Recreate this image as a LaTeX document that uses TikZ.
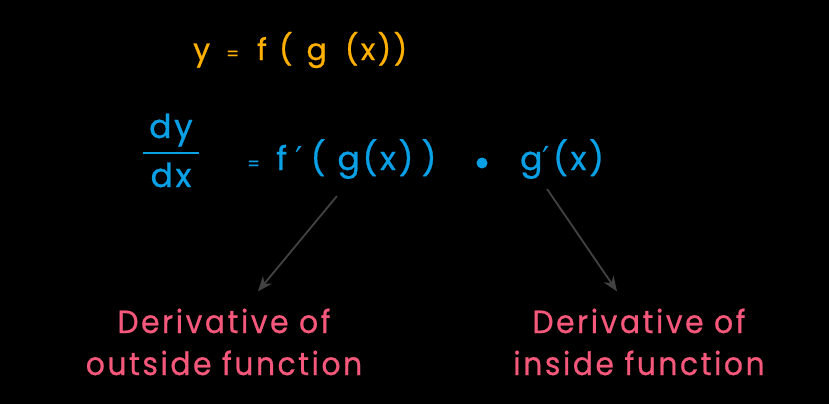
\documentclass[tikz,border=0pt]{standalone}
\usepackage{fontspec}
\setmainfont{Poppins}[LetterSpace=8,FakeBold=0.8]
\newfontfamily\labfont{Poppins}[LetterSpace=8,FakeStretch=0.93,FakeBold=0.6]
\newfontfamily\primefont{DejaVu Sans}
\usetikzlibrary{arrows.meta}
\definecolor{orng}{HTML}{FFB000}
\definecolor{skyb}{HTML}{0AA0E6}
\definecolor{pnk}{HTML}{F5587A}
\definecolor{arrgray}{HTML}{424242}
\newcommand{\prm}{{\primefont\char"2032}}
\newcommand{\smeq}{{\fontsize{18}{18}\selectfont =}}

\begin{document}
\begin{tikzpicture}[x=1pt,y=-1pt,
  ytxt/.style={text=orng,font=\fontsize{30}{34}\selectfont,inner sep=0pt},
  btxt/.style={text=skyb,font=\fontsize{33}{36}\selectfont,inner sep=0pt},
  ptxt/.style={text=pnk,font=\labfont\fontsize{32}{42}\selectfont,align=center,inner sep=0pt},
  arr/.style={-{Stealth[length=15pt,width=12pt]},draw=arrgray,line width=1.8pt}]
\fill[black] (0,0) rectangle (829,404);
\node[ytxt,anchor=base west] (yeq) at (193,60)
  {y\hspace{16pt}\smeq\hspace{18pt}f\hspace{12pt}(\hspace{14pt}g\hspace{18pt}(x))};
\node[btxt,anchor=base] (dy) at (171,138) {dy};
\draw[skyb,line width=1.6pt] (143,153) -- (199,153);
\node[btxt,anchor=base] (dx) at (171,187) {dx};
\node[btxt,anchor=base west] (fgx) at (247,170)
  {\smeq\hspace{16pt}f\hspace{8pt}\prm\hspace{8pt}(\hspace{12pt}g(x)\hspace{8pt})};
\node[fill=skyb,circle,inner sep=0pt,minimum size=11pt] (dot) at (482,163) {};
\node[btxt,anchor=base west] (gpx) at (520,170) {g\prm\hspace{3pt}(x)};
\node[ptxt,anchor=base] (outer) at (224,375) {Derivative of\\outside function};
\node[ptxt,anchor=base] (inner) at (639,375) {Derivative of\\inside function};
\draw[arr] ([shift={(-5,17)}]fgx.south) -- ([shift={(34,-17)}]outer.north);
\draw[arr] ([shift={(-15,10)}]gpx.south) -- ([shift={(-22,-17)}]inner.north);
\end{tikzpicture}
\end{document}
